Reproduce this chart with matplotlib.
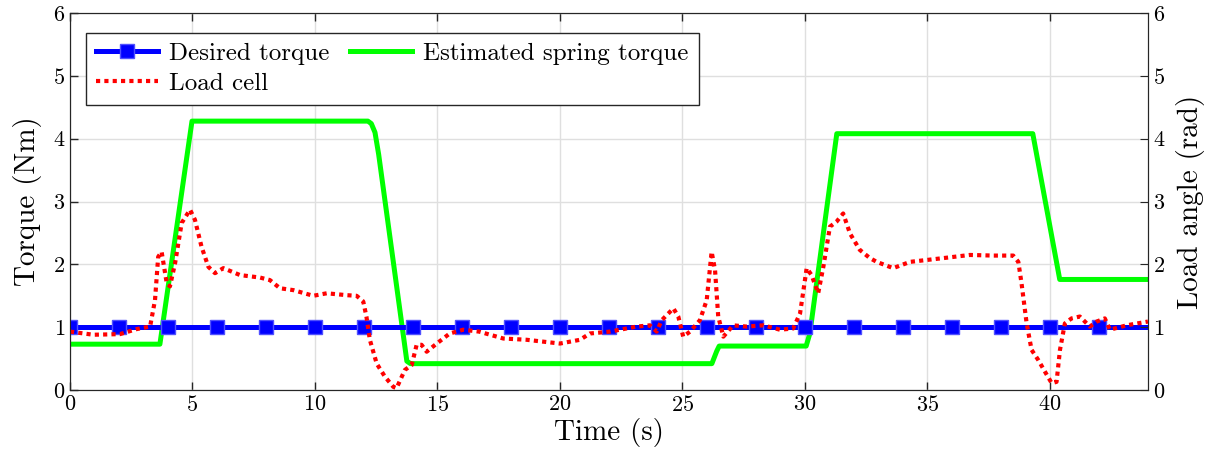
import matplotlib
matplotlib.use("Agg")
import matplotlib.pyplot as plt
import numpy as np

plt.rcParams['font.family'] = ['cmr10', 'DejaVu Serif']
plt.rcParams['axes.formatter.use_mathtext'] = True
plt.rcParams['mathtext.fontset'] = 'cm'

# desired torque (constant, marker every 2 s)
desired_t = [0, 44]
desired_v = [1.0, 1.0]
marker_t = list(range(0, 44, 2))

# estimated spring torque
spring_t = [0, 3.67, 4.98, 12.16, 12.3, 12.45, 12.6, 13.75, 13.9, 26.2, 26.4, 26.5, 30.05, 30.2,
            31.3, 39.3, 40.4, 44]
spring_v = [0.73, 0.73, 4.28, 4.28, 4.24, 4.1, 3.75, 0.46, 0.42, 0.42, 0.62, 0.7, 0.7, 0.9,
            4.08, 4.08, 1.76, 1.76]

# load cell
load_t = [0, 0.95, 2.04, 2.72, 3.27, 3.47, 3.6, 3.74, 3.95, 4.08, 4.29, 4.56, 4.9, 5.1, 5.37,
          5.65, 5.92, 6.26, 6.94, 7.76, 8.16, 8.57, 9.12, 9.93, 10.48, 11.29, 11.7, 11.97, 12.1,
          12.24, 12.52, 12.86, 13.2, 13.33, 13.54, 13.67, 13.95, 14.15, 14.35, 14.56, 14.97,
          15.5, 16.05, 16.7, 17.69, 18.64, 20.0, 20.82, 21.22, 22.04, 23.13, 23.67, 23.95,
          24.15, 24.63, 24.83, 25.03, 25.31, 25.71, 25.99, 26.19, 26.33, 26.46, 26.67, 27.07,
          27.62, 28.3, 28.98, 29.52, 29.8, 30.0, 30.07, 30.27, 30.54, 30.75, 31.02, 31.29,
          31.56, 31.84, 32.24, 32.65, 32.93, 33.6, 34.29, 35.65, 36.73, 37.69, 38.5, 38.71,
          38.84, 39.05, 39.25, 39.52, 39.8, 40.07, 40.27, 40.41, 40.61, 40.88, 41.22, 41.63,
          41.91, 42.24, 42.45, 43.13, 44.0]
load_v = [0.93, 0.88, 0.89, 0.97, 1.01, 1.43, 2.12, 2.20, 1.70, 1.65, 2.02, 2.66, 2.87, 2.71,
          2.28, 1.96, 1.86, 1.94, 1.83, 1.79, 1.75, 1.62, 1.59, 1.50, 1.54, 1.51, 1.50, 1.41,
          1.17, 0.80, 0.42, 0.21, 0.05, 0.03, 0.21, 0.32, 0.40, 0.72, 0.72, 0.61, 0.74, 0.90,
          0.96, 0.93, 0.82, 0.80, 0.74, 0.80, 0.90, 0.93, 1.01, 1.03, 0.93, 1.11, 1.30, 1.17,
          0.85, 0.93, 1.11, 1.43, 2.20, 1.91, 1.17, 0.85, 1.03, 1.01, 1.03, 0.96, 0.98, 1.22,
          1.75, 1.94, 1.83, 1.54, 1.96, 2.60, 2.68, 2.81, 2.49, 2.23, 2.10, 2.04, 1.94, 2.04,
          2.10, 2.15, 2.14, 2.14, 2.04, 1.70, 1.06, 0.64, 0.48, 0.29, 0.11, 0.13, 0.64, 1.06,
          1.14, 1.17, 1.01, 1.09, 1.14, 0.96, 1.03, 1.09]

xticks = [0, 5, 10, 15, 20, 25, 30, 35, 40]
yticks = [0, 1, 2, 3, 4, 5, 6]

fig = plt.figure(figsize=(12.15, 4.66), dpi=100)
ax = fig.add_axes([0.0576, 0.163, 0.8872, 0.809])
axc = '#262626'

ax.plot(desired_t, desired_v, color='#0000ff', lw=3.6, zorder=3)
ax.plot(marker_t, [1.0] * len(marker_t), ls='none', marker='s', ms=10,
        mfc='#0000ff', mec='#5050ff', zorder=3)
line_d, = ax.plot([], [], color='#0000ff', lw=3.6, marker='s', ms=10, mfc='#0000ff',
                  mec='#5050ff')
line_s, = ax.plot(spring_t, spring_v, color='#00ff00', lw=3.6, zorder=2)
line_l, = ax.plot(load_t, load_v, color='#ff0000', lw=3.0, ls=(0, (1.0, 1.0)), zorder=4)

ax.set_xlim(0, 44)
ax.set_ylim(0, 6)
ax.set_xticks(xticks)
ax.set_yticks(yticks)
ax.grid(True, color='#dfdfdf', lw=1)
ax.set_axisbelow(True)
ax.tick_params(direction='in', length=6, top=True, colors=axc, labelcolor='black',
               labelsize=16, width=1)
for s in ax.spines.values():
    s.set_color(axc)
ax.set_xlabel('Time (s)', fontsize=21, labelpad=2)
ax.set_ylabel('Torque (Nm)', fontsize=21, labelpad=8)

ax2 = ax.twinx()
ax2.set_ylim(0, 6)
ax2.set_yticks(yticks)
ax2.tick_params(direction='in', length=6, colors=axc, labelcolor='black', labelsize=16)
ax2.set_ylabel('Load angle (rad)', fontsize=21, labelpad=8)
for s in ax2.spines.values():
    s.set_color(axc)

# column-major fill: Desired, Load cell | Estimated
leg = ax.legend([line_d, line_l, line_s],
                ['Desired torque', 'Load cell', 'Estimated spring torque'],
                ncol=2, loc='upper left', bbox_to_anchor=(0.0145, 0.948),
                fontsize=18, frameon=True, fancybox=False, edgecolor=axc,
                handlelength=2.5, handletextpad=0.45, columnspacing=0.8,
                borderpad=0.4, labelspacing=0.3, borderaxespad=0)
leg.get_frame().set_linewidth(1)
leg.get_frame().set_alpha(1)

fig.savefig('out.png', dpi=100)
